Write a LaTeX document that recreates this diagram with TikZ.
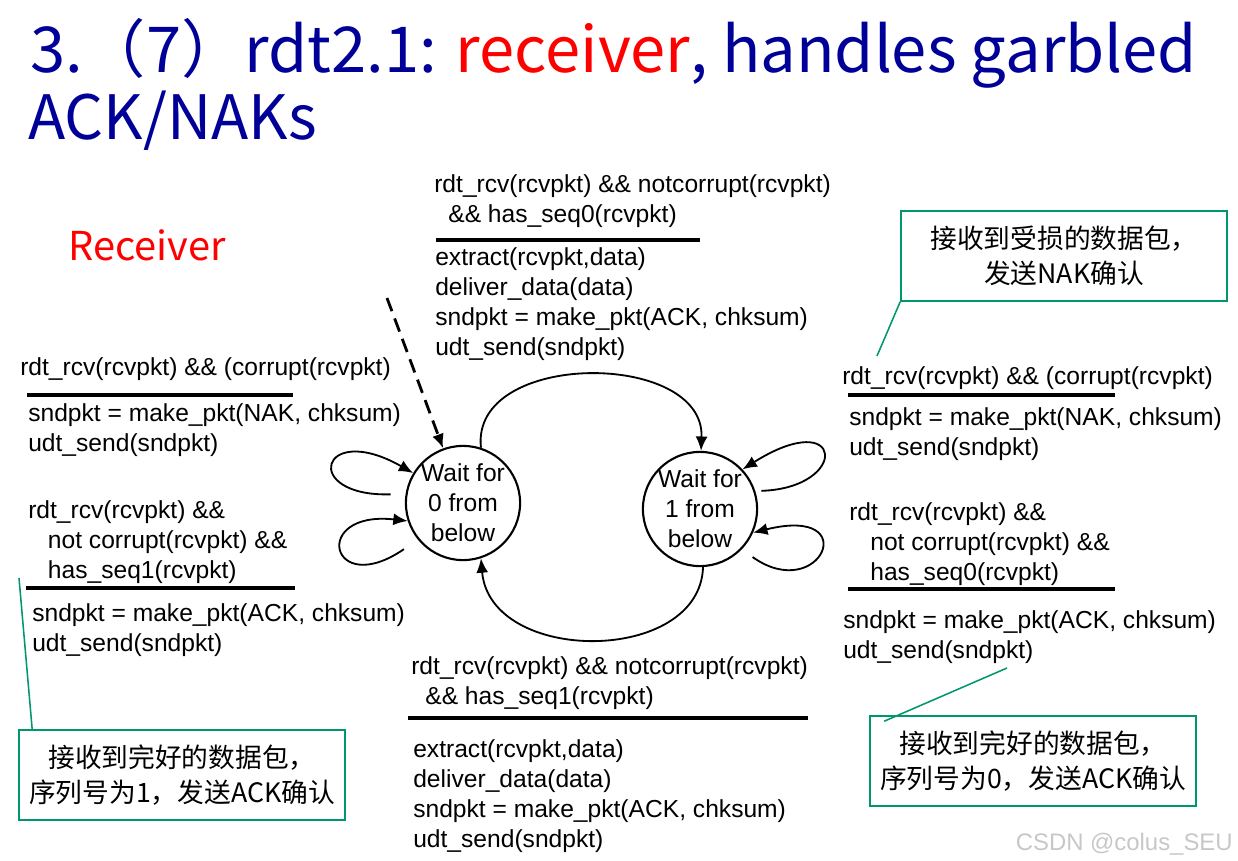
\documentclass[tikz,border=0pt]{standalone}
\usepackage{fontspec}
\setmainfont{Liberation Sans}
\newfontfamily\cjk{Noto Sans CJK SC}
\usetikzlibrary{arrows.meta,positioning}
\definecolor{titleblue}{RGB}{0,0,153}
\definecolor{notegreen}{RGB}{0,150,110}
\newcommand\codesize{\fontsize{17.5}{21.3}\selectfont}

\begin{document}
\begin{tikzpicture}[
    x=0.025cm,y=-0.025cm,
    state/.style={circle,draw,line width=1.5pt,minimum size=2.72cm,inner sep=0,align=center,font=\codesize},
    code/.style={anchor=base west,align=left,inner sep=0,font=\codesize},
    rule/.style={line width=2.2pt},
    arrow/.style={-{Latex[length=3.6mm,width=3mm]},line width=1.3pt},
    initarrow/.style={arrow,line width=2pt,dash pattern=on 10pt off 5.5pt},
    note/.style={draw=notegreen,line width=1.1pt,minimum width=8.15cm,minimum height=2.25cm,align=center,font=\cjk\fontsize{19}{24.5}\selectfont},
    pointer/.style={notegreen,line width=1.1pt}
]
\useasboundingbox (0,0) rectangle (1238,861);

% Title
\node[anchor=base west,inner sep=0,font=\cjk\fontsize{45}{48}\selectfont,text=titleblue] (title) at (30,72) {3.（7）rdt2.1: \textcolor{red}{receiver}, handles garbled};
\node[anchor=base west,inner sep=0,font=\cjk\fontsize{43.5}{48}\selectfont,text=titleblue] (title2) at (28,139) {ACK/NAKs};
\node[anchor=base west,inner sep=0,font=\cjk\fontsize{28.3}{32}\selectfont,text=red] (side) at (68,260) {Receiver};

% States
\node[state] (wait0) at (463,503) {Wait for\\0 from\\below};
\node[state] (wait1) at (700,509) {Wait for\\1 from\\below};

% Transition labels (anchored on the last line's baseline)
\node[code] (topguard) at (434,222) {rdt\_rcv(rcvpkt) \&\& notcorrupt(rcvpkt)\\\hspace*{10pt}\&\& has\_seq0(rcvpkt)};
\draw[rule] (436,240) -- (700,240);
\node[code] (topact) at (435,355) {extract(rcvpkt,data)\\deliver\_data(data)\\sndpkt = make\_pkt(ACK, chksum)\\udt\_send(sndpkt)};

\node[code] (lnakguard) at (20,375) {rdt\_rcv(rcvpkt) \&\& (corrupt(rcvpkt)};
\draw[rule] (27,395) -- (293,395);
\node[code] (lnakact) at (28,451) {sndpkt = make\_pkt(NAK, chksum)\\udt\_send(sndpkt)};

\node[code] (lackguard) at (28,578) {rdt\_rcv(rcvpkt) \&\&\\\hspace*{14pt}not corrupt(rcvpkt) \&\&\\\hspace*{14pt}has\_seq1(rcvpkt)};
\draw[rule] (26,588) -- (295,588);
\node[code] (lackact) at (32,651) {sndpkt = make\_pkt(ACK, chksum)\\udt\_send(sndpkt)};

\node[code] (rnakguard) at (842,384) {rdt\_rcv(rcvpkt) \&\& (corrupt(rcvpkt)};
\draw[rule] (848,395) -- (1115,395);
\node[code] (rnakact) at (849,455) {sndpkt = make\_pkt(NAK, chksum)\\udt\_send(sndpkt)};

\node[code] (rackguard) at (849,580) {rdt\_rcv(rcvpkt) \&\&\\\hspace*{15pt}not corrupt(rcvpkt) \&\&\\\hspace*{15pt}has\_seq0(rcvpkt)};
\draw[rule] (848,589) -- (1115,589);
\node[code] (rackact) at (843,658) {sndpkt = make\_pkt(ACK, chksum)\\udt\_send(sndpkt)};

\node[code] (botguard) at (411,704) {rdt\_rcv(rcvpkt) \&\& notcorrupt(rcvpkt)\\\hspace*{10pt}\&\& has\_seq1(rcvpkt)};
\draw[rule] (408,718) -- (808,718);
\node[code] (botact) at (413,847) {extract(rcvpkt,data)\\deliver\_data(data)\\sndpkt = make\_pkt(ACK, chksum)\\udt\_send(sndpkt)};

% Transitions
\coordinate (start) at (387,298);
\draw[initarrow] (start) -- (wait0.110);
\draw[arrow] (wait0.72) .. controls (470,350) and (705,350) .. (wait1.89);
\draw[arrow] (wait1.273) .. controls (700,665) and (490,665) .. (wait0.288);
\draw[arrow,shorten <=0.375cm] (wait0.171) .. controls (300,497) and (320,420) .. (wait0.149);
\draw[arrow,shorten <=0.42cm] (wait0.219) .. controls (330,600) and (310,510) .. (wait0.198);
\draw[arrow,shorten <=0.15cm] (wait1.18) .. controls (850,488) and (845,405) .. (wait1.43);
\draw[arrow,shorten <=0.33cm] (wait1.316) .. controls (820,605) and (865,505) .. (wait1.336);

% Callouts
\node[note] (naknote) at (1064,256) {接收到受损的数据包，\\发送NAK确认};
\node[note] (ack1note) at (182,775) {接收到完好的数据包，\\序列号为1，发送ACK确认};
\node[note] (ack0note) at (1033,761) {接收到完好的数据包，\\序列号为0，发送ACK确认};
\coordinate (naktip) at (877,356);
\coordinate (ack1tip) at (19,578);
\coordinate (ack0tip) at (1007,668);
\draw[pointer] (naknote.south west) -- (naktip);
\draw[pointer] ([xshift=0.35cm]ack1note.north west) -- (ack1tip);
\draw[pointer] ([xshift=0.375cm,yshift=-0.15cm]ack0note.north west) -- (ack0tip);

\node[anchor=base east,inner sep=0,font=\fontsize{17}{20}\selectfont,text=black!22] (mark) at (1233,850) {CSDN @colus\_SEU};
\end{tikzpicture}
\end{document}
